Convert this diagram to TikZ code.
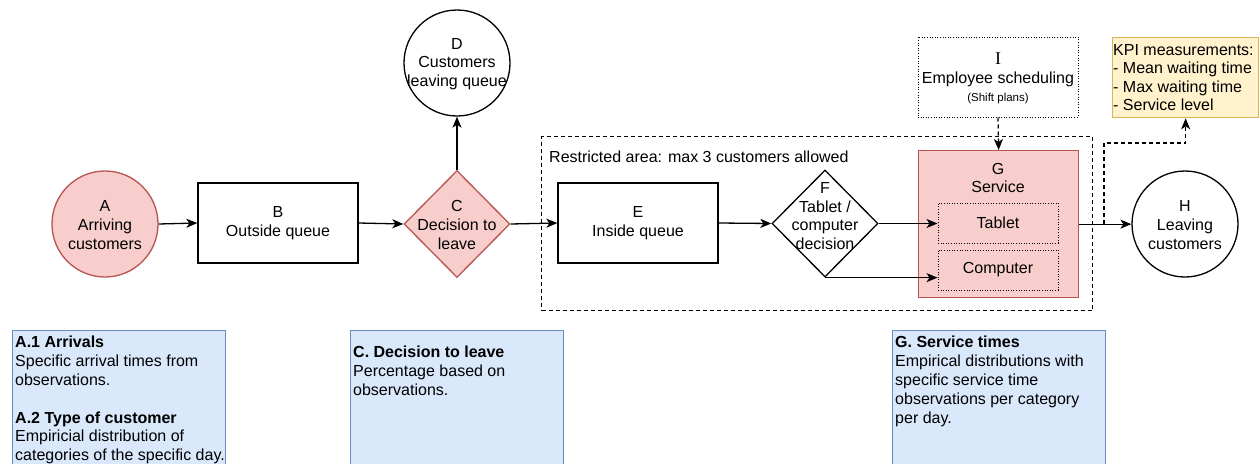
\documentclass[tikz,border=0pt]{standalone}
\usepackage{fontspec}
\setmainfont{Liberation Sans}
\newfontfamily\serifI{Liberation Serif}
\usetikzlibrary{shapes.geometric,arrows.meta}
\definecolor{redfill}{HTML}{F8CECC}
\definecolor{redline}{HTML}{B85450}
\definecolor{bluefill}{HTML}{DAE8FC}
\definecolor{blueline}{HTML}{6C8EBF}
\definecolor{yelfill}{HTML}{FFF2CC}
\definecolor{yelline}{HTML}{D6B656}
\tikzset{
  base/.style={line width=1.3pt, inner sep=0pt, font=\fontsize{16}{18.6}\selectfont, align=center},
  rectbox/.style={base, draw, rectangle, minimum width=160, minimum height=80},
  circnode/.style={base, draw, circle, minimum size=106},
  diamnode/.style={base, draw, diamond, aspect=1, minimum width=106, minimum height=107},
  redstyle/.style={fill=redfill, draw=redline},
  txt/.style={font=\fontsize{16}{18.6}\selectfont, align=center, inner sep=0pt},
  ltxt/.style={font=\fontsize{16}{18.8}\selectfont, align=left, inner sep=0pt},
  dotbox/.style={base, draw, rectangle, dash pattern=on 1pt off 1.6pt, line width=1pt},
  dashline/.style={dash pattern=on 4pt off 3pt},
  bluebox/.style={draw=blueline, fill=bluefill, line width=1.3pt, rectangle, inner sep=0pt, minimum width=213, minimum height=150, anchor=north west},
  arr/.style={line width=1.3pt, -{Stealth[length=11pt,width=9pt,inset=3pt]}},
}
\begin{document}
\begin{tikzpicture}[x=1pt,y=-1pt]
\useasboundingbox (0,0) rectangle (1260,463);
\clip (0,0) rectangle (1260,463);
% restricted area
\node[base, draw, dashline, rectangle, anchor=north west, minimum width=551, minimum height=174] (R) at (541,136) {};
\node[txt, anchor=west] (Rlab) at (549,157) {Restricted area: max 3 customers allowed};
% A
\node[circnode, redstyle] (A) at (105,224) {};
\node[txt] (Atxt) at (105,225) {A\\Arriving\\customers};
% B
\node[rectbox] (B) at (278,223) {B\\Outside queue};
% C
\node[diamnode, redstyle] (C) at (457,224) {};
\node[txt] (Ctxt) at (457,225) {C\\Decision to\\leave};
% D
\node[circnode] (D) at (457,63) {};
\node[txt] (Dtxt) at (457,64) {D\\Customers\\leaving queue};
% E
\node[rectbox] (E) at (638,223) {E\\Inside queue};
% F
\node[diamnode] (F) at (825,223.5) {};
\node[txt] (Ftxt) at (825,216) {F\\Tablet /\\computer\\decision};
% G
\node[base, draw, redstyle, rectangle, anchor=north west, minimum width=160, minimum height=147] (G) at (918,150) {};
\node[txt] (Gtxt) at (998,178) {G\\Service};
\node[dotbox, minimum width=120, minimum height=40] (Tab) at (998,223) {Tablet};
\node[dotbox, minimum width=120, minimum height=40] (Comp) at (998,270) {Computer};
% H
\node[circnode] (H) at (1185,224) {};
\node[txt] (Htxt) at (1185,225) {H\\Leaving\\customers};
% I
\node[dotbox, minimum width=160, minimum height=80] (I) at (998,77) {};
\node[txt] (Itxt) at (998,70) {{\serifI\fontsize{18}{18.6}\selectfont I}\\Employee scheduling};
\node[txt, font=\fontsize{11.5}{13}\selectfont] (Ismall) at (998,98.5) {(Shift plans)};
% KPI
\node[base, draw=yelline, fill=yelfill, rectangle, anchor=north west, minimum width=146, minimum height=80] (K) at (1112,37) {};
\node[ltxt, anchor=north west, font=\fontsize{16}{18.5}\selectfont] (Ktxt) at (1113,44) {KPI measurements:\\- Mean waiting time\\- Max waiting time\\- Service level};
% connectors
\draw[arr] (A.east) -- (B.west);
\draw[arr] (B.east) -- (C.west);
\draw[arr] (C.north) -- (D.south);
\draw[arr] (C.east) -- (E.west);
\draw[arr] (E.east) -- (F.west);
\draw[arr] (F.east) -- (F.east -| Tab.west);
\draw[arr] (F.south) -- (F.south -| Comp.west);
\draw[arr] (G.east) -- (G.east -| H.west);
\draw[arr, dashline] (I.south) -- (G.north);
\coordinate (tap) at (1104,224);
\coordinate (bend) at (1104,143);
\draw[arr, dashline] (tap) -- (bend) -| (K.south);
% bottom boxes
\node[bluebox] (BA) at (12,330) {};
\node[ltxt, anchor=north west] (BAt) at (15,336) {\textbf{A.1 Arrivals}\\Specific arrival times from\\observations.\\[18.8pt]\textbf{A.2 Type of customer}\\Empiricial distribution of\\categories of the specific day.};
\node[bluebox] (BC) at (350,330) {};
\node[ltxt, anchor=north west] (BCt) at (353,346) {\textbf{C. Decision to leave}\\Percentage based on\\observations.};
\node[bluebox] (BG) at (892,330) {};
\node[ltxt, anchor=north west] (BGt) at (895,336) {\textbf{G. Service times}\\Empirical distributions with\\specific service time\\observations per category\\per day.};
\end{tikzpicture}
\end{document}
